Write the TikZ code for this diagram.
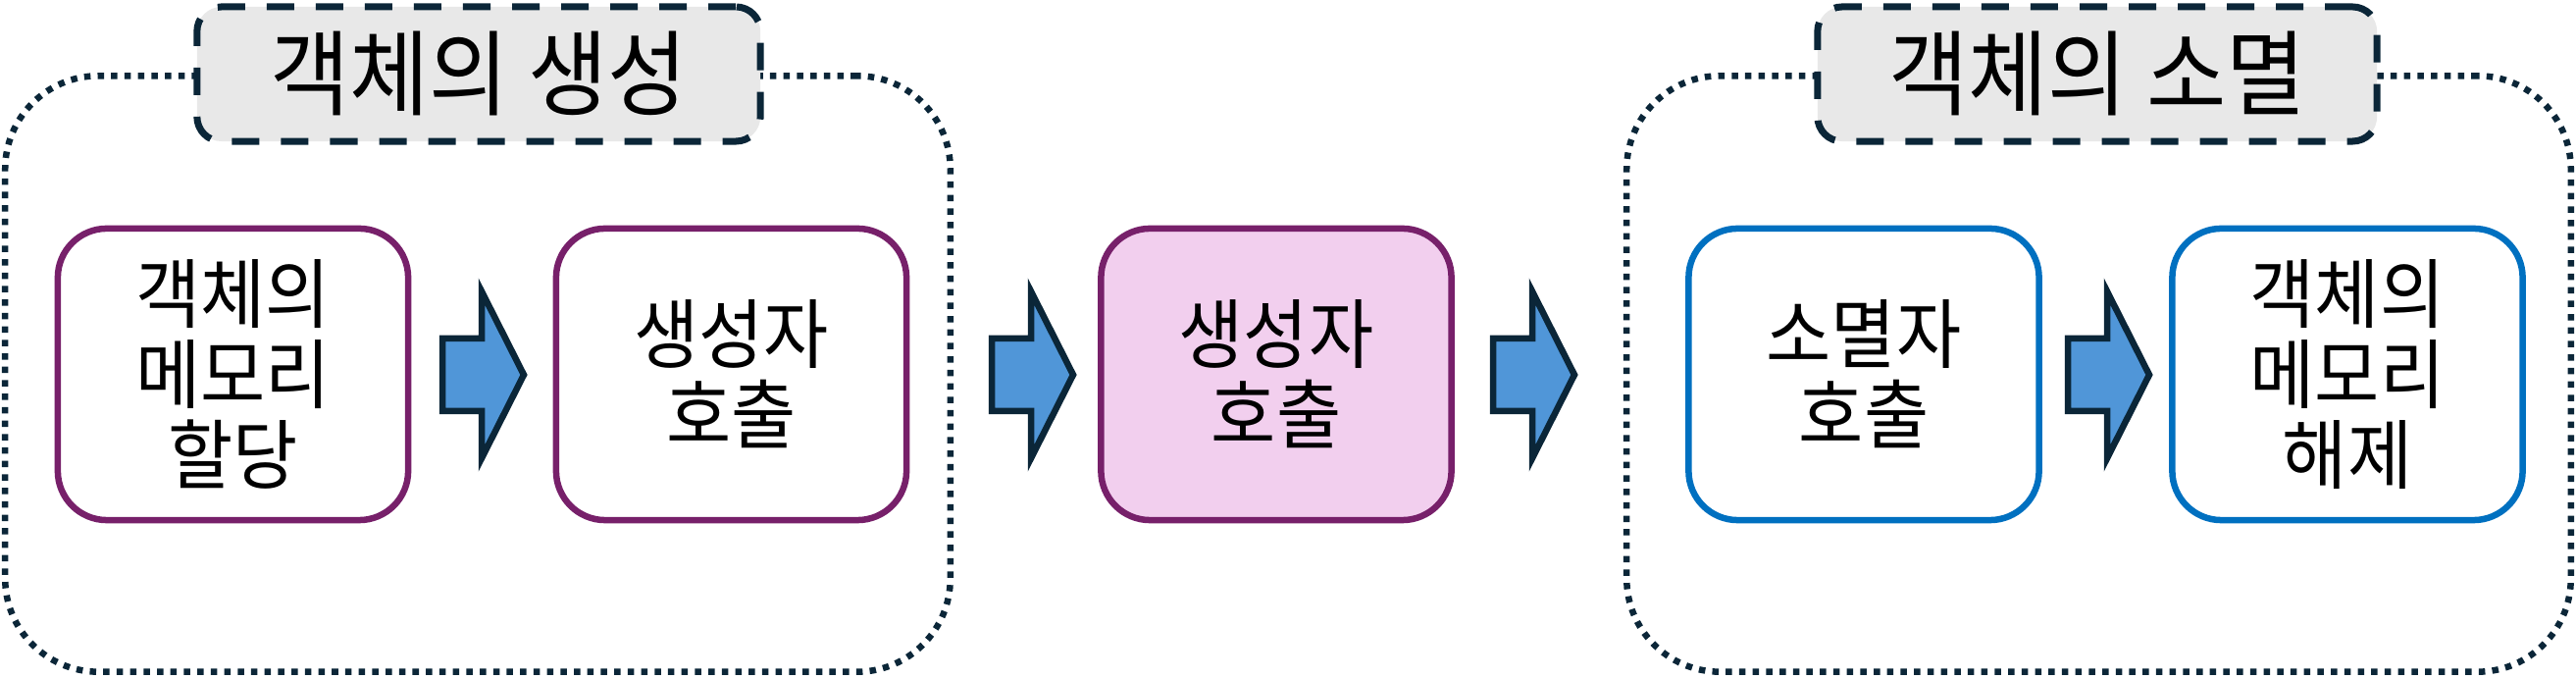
\documentclass[tikz,border=0pt]{standalone}
\usepackage{fontspec}
\newfontfamily\kr[FakeStretch=0.93]{Noto Sans CJK KR}
\usetikzlibrary{calc}
\definecolor{navy}{HTML}{0B2638}
\definecolor{plum}{HTML}{77206A}
\definecolor{pinkfill}{HTML}{F2CFEE}
\definecolor{bblue}{HTML}{0070C0}
\definecolor{afill}{HTML}{5096D8}
\definecolor{tgray}{HTML}{E8E8E8}
\begin{document}
\begin{tikzpicture}[x=0.01cm,y=-0.01cm,
 container/.style={draw=navy, line width=0.065cm, dash pattern=on 0.065cm off 0.072cm, rounded corners=0.95cm, minimum height=6.07cm, inner sep=0pt},
 titlebox/.style={draw=navy, fill=tgray, line width=0.07cm, dash pattern=on 0.28cm off 0.22cm, rounded corners=0.25cm, minimum height=1.37cm, font=\kr\fontsize{27pt}{30pt}\selectfont, inner sep=0pt},
 stepbox/.style={draw, line width=0.065cm, rounded corners=0.5cm, minimum width=3.57cm, minimum height=2.97cm, align=center, fill=white, font=\kr\fontsize{22pt}{23.3pt}\selectfont, inner sep=0pt},
 purplebox/.style={stepbox, draw=plum},
 bluebox/.style={stepbox, draw=bblue},
 blockarrow/.style={draw=navy, fill=afill, line width=0.065cm, line join=miter}
]
\useasboundingbox (0,0) rectangle (2626,692);
% containers
\node[container, minimum width=9.63cm] (c1) at (487,381) {};
\node[container, minimum width=9.62cm] (c2) at (2139.5,381) {};
% titles
\node[titlebox, minimum width=5.74cm] (t1) at (488,75.5) {객체의 생성};
\node[titlebox, minimum width=5.70cm] (t2) at (2138,75.5) {객체의 소멸};
% boxes
\node[purplebox] (b1) at (237.5,381.5) {객체의\\메모리\\할당};
\node[purplebox] (b2) at (745.5,381.5) {생성자\\호출};
\node[purplebox, fill=pinkfill] (b3) at (1301,381.5) {생성자\\호출};
\node[bluebox] (b4) at (1900,381.5) {소멸자\\호출};
\node[bluebox] (b5) at (2393,381.5) {객체의\\메모리\\해제};
% arrows
\coordinate (a1) at (451,382);
\coordinate (a2) at (1011,382);
\coordinate (a3) at (1522,382);
\coordinate (a4) at (2108,382);
\foreach \a in {a1,a2,a3,a4}{
  \draw[blockarrow] (\a) ++(0,-37) -- ++(40,0) -- ++(0,-48) -- ++(43,85) -- ++(-43,85) -- ++(0,-48) -- ++(-40,0) -- cycle;
}
\end{tikzpicture}
\end{document}
